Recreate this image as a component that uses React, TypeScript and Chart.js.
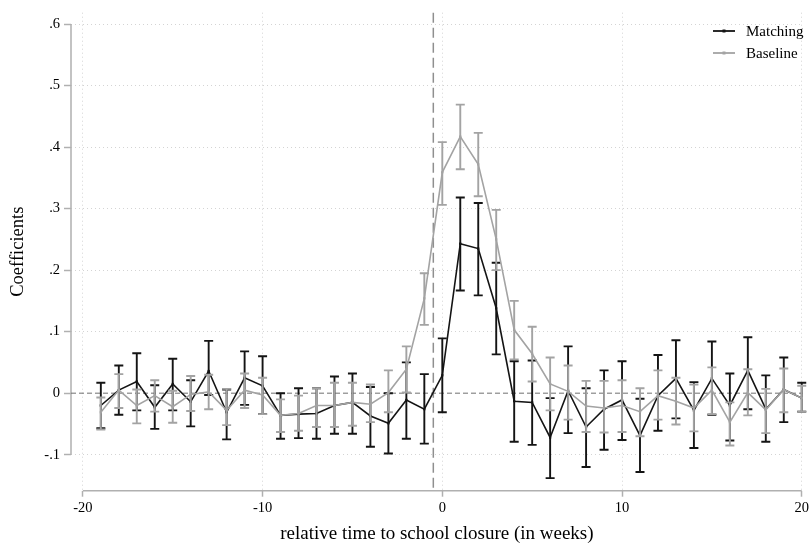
import React, { useEffect, useRef } from "react";
import { Chart, registerables } from "chart.js";
import type { ChartConfiguration, Plugin } from "chart.js";

Chart.register(...registerables);

const weeks = [
    -19, -18, -17, -16, -15, -14, -13, -12, -11, -10,
    -9, -8, -7, -6, -5, -4, -3, -2, -1, 0,
    1, 2, 3, 4, 5, 6, 7, 8, 9, 10,
    11, 12, 13, 14, 15, 16, 17, 18, 19, 20,
];

const matching = [
    -0.020, 0.005, 0.019, -0.023, 0.015, -0.014, 0.036, -0.031, 0.025, 0.012,
    -0.036, -0.034, -0.033, -0.020, -0.015, -0.037, -0.049, -0.011, -0.026, 0.029,
    0.243, 0.235, 0.138, -0.013, -0.015, -0.072, 0.004, -0.055, -0.026, -0.011,
    -0.069, -0.004, 0.024, -0.028, 0.024, -0.020, 0.037, -0.026, 0.006, -0.008,
];
const matchingLo = [
    -0.057, -0.035, -0.028, -0.058, -0.028, -0.054, -0.003, -0.075, -0.019, -0.034,
    -0.074, -0.073, -0.074, -0.066, -0.066, -0.087, -0.098, -0.074, -0.082, -0.031,
    0.167, 0.159, 0.063, -0.079, -0.084, -0.138, -0.065, -0.120, -0.092, -0.076,
    -0.128, -0.061, -0.041, -0.089, -0.035, -0.077, -0.026, -0.079, -0.047, -0.030,
];
const matchingHi = [
    0.017, 0.045, 0.065, 0.013, 0.056, 0.021, 0.085, 0.006, 0.068, 0.060,
    0.000, 0.008, 0.008, 0.027, 0.032, 0.010, 0.000, 0.050, 0.031, 0.089,
    0.318, 0.309, 0.212, 0.052, 0.053, -0.008, 0.076, 0.008, 0.037, 0.052,
    -0.009, 0.062, 0.086, 0.018, 0.084, 0.032, 0.091, 0.029, 0.058, 0.017,
];

const baseline = [
    -0.031, 0.005, -0.020, -0.004, -0.022, -0.002, 0.002, -0.028, 0.005, -0.003,
    -0.036, -0.033, -0.020, -0.020, -0.015, -0.018, 0.001, 0.039, 0.154, 0.359,
    0.417, 0.372, 0.250, 0.103, 0.064, 0.015, 0.003, -0.021, -0.024, -0.020,
    -0.030, -0.004, -0.013, -0.024, 0.005, -0.047, 0.001, -0.027, 0.006, -0.008,
];
const baselineLo = [
    -0.059, -0.024, -0.049, -0.030, -0.048, -0.029, -0.026, -0.052, -0.024, -0.034,
    -0.063, -0.061, -0.055, -0.055, -0.053, -0.047, -0.031, 0.001, 0.111, 0.306,
    0.364, 0.320, 0.200, 0.055, 0.019, -0.028, -0.043, -0.063, -0.064, -0.063,
    -0.070, -0.043, -0.051, -0.062, -0.034, -0.085, -0.036, -0.065, -0.031, -0.030,
];
const baselineHi = [
    -0.007, 0.031, 0.006, 0.021, 0.004, 0.028, 0.030, 0.007, 0.032, 0.025,
    -0.010, -0.004, 0.008, 0.017, 0.017, 0.014, 0.037, 0.076, 0.195, 0.408,
    0.469, 0.423, 0.298, 0.150, 0.108, 0.058, 0.045, 0.020, 0.020, 0.021,
    0.008, 0.037, 0.025, 0.014, 0.042, -0.015, 0.039, 0.007, 0.040, 0.012,
];

const xTicks = [-20, -10, 0, 10, 20];
const yTicks = [-0.1, 0, 0.1, 0.2, 0.3, 0.4, 0.5, 0.6];
const closureLine = -0.5;

const BLACK = "#141414";
const GRAY = "#a3a3a3";
const AXIS = "#b0b0b0";
const FONT = "'Liberation Serif', 'Times New Roman', serif";

const stataLabel = (v: number) => {
    if (Math.abs(v) < 1e-9) return "0";
    const s = v.toFixed(1);
    return s.replace(/^(-?)0\./, "$1.");
};

// caps + whiskers for one dataset, drawn just before its line
const errorBars: Plugin = {
    id: "errorBars",
    beforeDatasetDraw(chart, args) {
        const ds: any = chart.data.datasets[args.index];
        if (!ds.lo || !ds.hi) return;
        const { ctx, scales } = chart;
        ctx.save();
        ctx.strokeStyle = ds.borderColor;
        ctx.lineWidth = 1.9;
        weeks.forEach((w, i) => {
            const x = scales.x.getPixelForValue(w);
            const y1 = scales.y.getPixelForValue(ds.lo[i]);
            const y2 = scales.y.getPixelForValue(ds.hi[i]);
            ctx.beginPath();
            ctx.moveTo(x, y1);
            ctx.lineTo(x, y2);
            ctx.moveTo(x - 4.5, y1);
            ctx.lineTo(x + 4.5, y1);
            ctx.moveTo(x - 4.5, y2);
            ctx.lineTo(x + 4.5, y2);
            ctx.stroke();
        });
        ctx.restore();
    },
};

const refLines: Plugin = {
    id: "refLines",
    beforeDatasetsDraw(chart) {
        const { ctx, chartArea, scales } = chart;
        ctx.save();
        // axis lines only span the tick range, as Stata draws them
        ctx.strokeStyle = AXIS;
        ctx.lineWidth = 1.5;
        ctx.beginPath();
        ctx.moveTo(chartArea.left, scales.y.getPixelForValue(yTicks[0]));
        ctx.lineTo(chartArea.left, scales.y.getPixelForValue(yTicks[yTicks.length - 1]));
        ctx.moveTo(scales.x.getPixelForValue(xTicks[0]), chartArea.bottom);
        ctx.lineTo(scales.x.getPixelForValue(xTicks[xTicks.length - 1]), chartArea.bottom);
        ctx.stroke();

        const y0 = scales.y.getPixelForValue(0);
        ctx.strokeStyle = "#6f6f6f";
        ctx.lineWidth = 1;
        ctx.setLineDash([5, 3]);
        ctx.beginPath();
        ctx.moveTo(chartArea.left, y0);
        ctx.lineTo(chartArea.right, y0);
        ctx.stroke();

        const xc = scales.x.getPixelForValue(closureLine);
        ctx.strokeStyle = "#8f8f8f";
        ctx.lineWidth = 1.5;
        ctx.setLineDash([10, 5]);
        ctx.beginPath();
        ctx.moveTo(xc, chartArea.top);
        ctx.lineTo(xc, chartArea.bottom);
        ctx.stroke();
        ctx.restore();
    },
};

const legendBox: Plugin = {
    id: "legendBox",
    afterDraw(chart) {
        const { ctx } = chart;
        const items = [
            { label: "Matching", color: BLACK, y: 31 },
            { label: "Baseline", color: GRAY, y: 53 },
        ];
        ctx.save();
        ctx.font = `15px ${FONT}`;
        ctx.textBaseline = "middle";
        items.forEach((item) => {
            ctx.strokeStyle = item.color;
            ctx.lineWidth = 1.8;
            ctx.beginPath();
            ctx.moveTo(713, item.y);
            ctx.lineTo(735, item.y);
            ctx.stroke();
            ctx.fillStyle = item.color;
            ctx.fillRect(722.5, item.y - 1.5, 3, 3);
            ctx.fillStyle = "#000";
            ctx.fillText(item.label, 746, item.y + 1);
        });
        ctx.restore();
    },
};

const series = (
    label: string,
    values: number[],
    lo: number[],
    hi: number[],
    color: string,
) => ({
    label,
    data: weeks.map((w, i) => ({ x: w, y: values[i] })),
    lo,
    hi,
    borderColor: color,
    backgroundColor: color,
    borderWidth: 1.6,
    pointRadius: 1.6,
    pointStyle: "rect" as const,
    pointBorderWidth: 0,
    tension: 0,
    clip: false as const,
});

const EventStudyChart: React.FC = () => {
    const canvasRef = useRef<HTMLCanvasElement | null>(null);

    useEffect(() => {
        const canvas = canvasRef.current;
        if (!canvas) return;

        const tickFont = { family: FONT, size: 14.5 };
        const config: ChartConfiguration = {
            type: "line",
            data: {
                // gray drawn on top of black, like the original
                datasets: [
                    series("Baseline", baseline, baselineLo, baselineHi, GRAY),
                    series("Matching", matching, matchingLo, matchingHi, BLACK),
                ] as any,
            },
            options: {
                responsive: true,
                maintainAspectRatio: false,
                animation: false,
                layout: { padding: { top: 8.3, right: 0, bottom: 0, left: 0 } },
                plugins: {
                    legend: { display: false },
                    tooltip: { enabled: false },
                },
                scales: {
                    x: {
                        type: "linear",
                        min: -20.66,
                        max: 20.055,
                        afterBuildTicks: (scale: any) => {
                            scale.ticks = xTicks.map((value) => ({ value }));
                        },
                        afterFit: (scale: any) => {
                            scale.height = 55.3;
                        },
                        grid: {
                            color: "#d4d4d4",
                            lineWidth: 1,
                            tickColor: AXIS,
                            tickLength: 6,
                            tickWidth: 1.5,
                        },
                        border: { display: false, dash: [1, 3] },
                        ticks: {
                            color: "#000",
                            font: tickFont,
                            padding: 3,
                            maxRotation: 0,
                            callback: (v: any) => String(v),
                        },
                        title: {
                            display: true,
                            text: "relative time to school closure (in weeks)",
                            color: "#000",
                            font: { family: FONT, size: 19 },
                            padding: { top: 0, bottom: 1 },
                        },
                    },
                    y: {
                        type: "linear",
                        min: -0.1585,
                        max: 0.6184,
                        afterBuildTicks: (scale: any) => {
                            scale.ticks = yTicks.map((value) => ({ value }));
                        },
                        afterFit: (scale: any) => {
                            scale.width = 71;
                        },
                        grid: {
                            color: (c: any) => (Math.abs(c.tick?.value ?? 1) < 1e-9 ? "rgba(0,0,0,0)" : "#d4d4d4"),
                            lineWidth: 1,
                            tickColor: AXIS,
                            tickLength: 7,
                            tickWidth: 1.5,
                        },
                        border: { display: false, dash: [1, 3] },
                        ticks: {
                            color: "#000",
                            font: tickFont,
                            padding: 4,
                            callback: (v: any) => stataLabel(Number(v)),
                        },
                        title: {
                            display: true,
                            text: "Coefficients",
                            color: "#000",
                            font: { family: FONT, size: 18.5 },
                            padding: { top: 7, bottom: 0 },
                        },
                    },
                },
            } as any,
            plugins: [refLines, errorBars, legendBox],
        };

        const chart = new Chart(canvas, config);
        return () => {
            chart.destroy();
        };
    }, []);

    return <canvas ref={canvasRef} />;
};

export default function App() {
    return (
        <div style={{ position: "fixed", left: 0, top: 0, width: 812, height: 546, background: "#fff" }}>
            <EventStudyChart />
        </div>
    );
}
